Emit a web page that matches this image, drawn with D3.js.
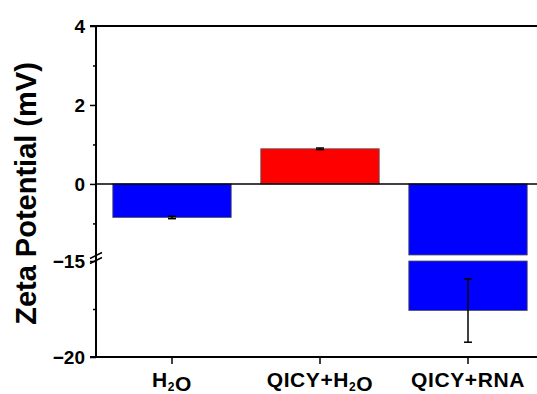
<!DOCTYPE html>
<html>
<head>
<meta charset="utf-8">
<script src="https://cdn.jsdelivr.net/npm/d3@7"></script>
<style>
    body { margin: 0; background: #fff; }
    text { font-family: "Liberation Sans", Arial, sans-serif; font-weight: bold; }
</style>
</head>
<body>
<svg id="chart"></svg>
<script>
// data
var categories = ["H2O", "QICY+H2O", "QICY+RNA"];
var values = [-0.85, 0.89, -17.58];
var errors = [0.03, 0.02, 1.65];
var barColors = ["#0000ff", "#ff0000", "#0000ff"];
var topTicks = [4, 3, 2, 1, 0, -1];
var topLabels = [4, 2, 0];
var bottomTicks = [-15, -17.5, -20];
var bottomLabels = [-15, -20];

var totalWidth = 537, totalHeight = 394;
var margin = { top: 26, right: 0, bottom: 37, left: 96 };

var svg = d3.select("#chart")
    .attr("width", totalWidth)
    .attr("height", totalHeight)
    .attr("viewBox", "0 0 " + totalWidth + " " + totalHeight);

var plotBottom = totalHeight - margin.bottom;
var breakTop = 255, breakBottom = 261;

// broken y axis: two linear pieces
var yTop = d3.scaleLinear()
    .domain([-1.8, 4])
    .range([breakTop, margin.top]);
var yBot = d3.scaleLinear()
    .domain([-20, -15])
    .range([plotBottom, breakBottom]);

var x = d3.scaleBand()
    .domain(categories)
    .range([98, 542])
    .paddingInner(0.2)
    .paddingOuter(0.1);

var color = d3.scaleOrdinal().domain(categories).range(barColors);

var data = categories.map((c, i) => ({ cat: c, val: values[i], err: errors[i] }));
var topMin = yTop.domain()[0];
var botMax = yBot.domain()[1];

// upper part of every bar
svg.append("g")
    .selectAll("rect")
    .data(data)
    .join("rect")
    .attr("x", d => x(d.cat))
    .attr("width", x.bandwidth())
    .attr("y", d => yTop(Math.max(0, Math.max(d.val, topMin))))
    .attr("height", d => Math.abs(yTop(Math.max(d.val, topMin)) - yTop(0)))
    .attr("fill", d => color(d.cat))
    .attr("stroke", "#555")
    .attr("stroke-width", 0.8);

// lower part for bars going past the break
svg.append("g")
    .selectAll("rect")
    .data(data.filter(d => d.val < botMax))
    .join("rect")
    .attr("x", d => x(d.cat))
    .attr("width", x.bandwidth())
    .attr("y", yBot(botMax))
    .attr("height", d => yBot(d.val) - yBot(botMax))
    .attr("fill", d => color(d.cat))
    .attr("stroke", "#555")
    .attr("stroke-width", 0.8);

// zero line
svg.append("line")
    .attr("x1", margin.left).attr("x2", totalWidth)
    .attr("y1", yTop(0)).attr("y2", yTop(0))
    .attr("stroke", "#000")
    .attr("stroke-width", 1.5);

// error bars
var scaleFor = d => d.val >= topMin ? yTop : yBot;
var eb = svg.append("g")
    .selectAll("g")
    .data(data)
    .join("g")
    .attr("stroke", "#000")
    .attr("stroke-width", 1.5);
eb.append("line")
    .attr("x1", d => x(d.cat) + x.bandwidth() / 2)
    .attr("x2", d => x(d.cat) + x.bandwidth() / 2)
    .attr("y1", d => scaleFor(d)(d.val - d.err))
    .attr("y2", d => scaleFor(d)(d.val + d.err));
[-1, 1].forEach(s => {
    eb.append("line")
        .attr("x1", d => x(d.cat) + x.bandwidth() / 2 - 4)
        .attr("x2", d => x(d.cat) + x.bandwidth() / 2 + 4)
        .attr("y1", d => scaleFor(d)(d.val + s * d.err))
        .attr("y2", d => scaleFor(d)(d.val + s * d.err));
});

// y axis pieces
function styleY(g, labels) {
    g.select(".domain").remove();
    g.selectAll(".tick line").attr("stroke-width", 1.5);
    g.selectAll(".tick")
        .filter(d => labels.indexOf(d) < 0)
        .call(t => t.select("line").attr("x2", -3))
        .call(t => t.select("text").remove());
    g.selectAll(".tick text")
        .attr("font-size", 19)
        .attr("fill", "#000");
}
svg.append("g")
    .attr("transform", `translate(${margin.left},0)`)
    .call(d3.axisLeft(yTop).tickValues(topTicks).tickSize(6).tickPadding(5).tickFormat(d3.format("d")))
    .call(g => styleY(g, topLabels));
svg.append("g")
    .attr("transform", `translate(${margin.left},0)`)
    .call(d3.axisLeft(yBot).tickValues(bottomTicks).tickSize(6).tickPadding(5).tickFormat(d3.format("d")))
    .call(g => styleY(g, bottomLabels));

// x axis
var xAxis = svg.append("g")
    .attr("transform", `translate(0,${plotBottom})`)
    .call(d3.axisBottom(x).tickSize(7).tickPadding(8).tickSizeOuter(0));
xAxis.select(".domain").remove();
xAxis.selectAll(".tick line").attr("stroke-width", 1.5);
xAxis.selectAll(".tick text")
    .attr("font-size", 21)
    .attr("letter-spacing", 0.6)
    .attr("fill", "#000")
    .each(function (d) {
        var t = d3.select(this).text("");
        d.split(/(2)/).forEach(part => {
            if (part == "") return;
            if (part == "2") {
                t.append("tspan").attr("font-size", 12).attr("dy", 4).text(part);
                t.append("tspan").attr("dy", -4).text("");
            } else {
                t.append("tspan").text(part);
            }
        });
    });

// frame lines
var frame = svg.append("g").attr("stroke", "#000").attr("stroke-width", 2);
frame.append("line")
    .attr("x1", margin.left).attr("x2", margin.left)
    .attr("y1", margin.top).attr("y2", plotBottom);
frame.append("line")
    .attr("x1", margin.left - 6).attr("x2", totalWidth)
    .attr("y1", margin.top).attr("y2", margin.top);
frame.append("line")
    .attr("x1", margin.left - 6).attr("x2", totalWidth)
    .attr("y1", plotBottom).attr("y2", plotBottom);

// axis break mark
var bm = (breakTop + breakBottom) / 2;
[-2.5, 2.5].forEach(o => {
    svg.append("line")
        .attr("x1", margin.left - 6).attr("y1", bm + o + 3)
        .attr("x2", margin.left + 6).attr("y2", bm + o - 3)
        .attr("stroke", "#000")
        .attr("stroke-width", 1.5);
});

// y title
svg.append("text")
    .attr("transform", "translate(36," + ((margin.top + plotBottom) / 2 + 2) + ") rotate(-90)")
    .attr("text-anchor", "middle")
    .attr("font-size", 29)
    .text("Zeta Potential (mV)");
</script>
</body>
</html>
